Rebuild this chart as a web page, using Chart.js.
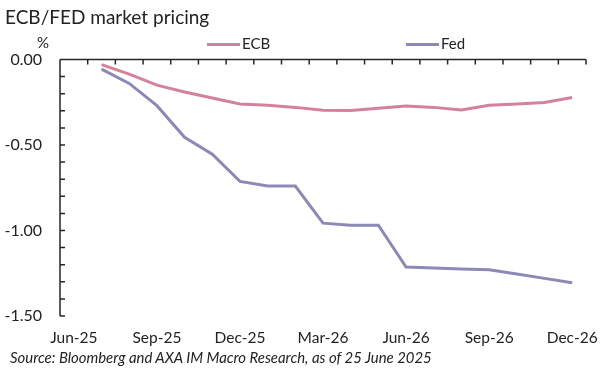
<!DOCTYPE html>
<html>
<head>
<meta charset="utf-8">
<script src="https://cdn.jsdelivr.net/npm/chart.js@4/dist/chart.umd.min.js"></script>
<style>
  body { margin: 0; background: #fff; }
  #wrap { position: relative; width: 611px; height: 376px; font-family: Lato, "Noto Sans", sans-serif; color: #222; }
  #wrap canvas { position: absolute; left: 0; top: 0; }
  .txt { position: absolute; white-space: nowrap; line-height: 1; }
  #title { left: 5px; top: 7px; font-size: 19px; }
  #unit { left: 37px; top: 35px; font-size: 15px; }
  #source { left: 10px; top: 350px; font-size: 14.9px; font-style: italic; }
  .leg { position: absolute; top: 34px; font-size: 15px; }
  .leg i { display: inline-block; width: 33px; height: 3px; vertical-align: middle; margin-right: 2px; position: relative; top: -1px; }
</style>
</head>
<body>
<div id="wrap">
  <canvas id="chart" width="611" height="376"></canvas>
  <div class="txt" id="title">ECB/FED market pricing</div>
  <div class="txt" id="unit">%</div>
  <div class="leg" style="left:207px"><i style="background:#d4829c"></i>ECB</div>
  <div class="leg" style="left:406px"><i style="background:#8c89b6"></i>Fed</div>
  <div class="txt" id="source">Source: Bloomberg and AXA IM Macro Research, as of 25 June 2025</div>
</div>
<script>
const months = ["Jun-25", "Jul-25", "Aug-25", "Sep-25", "Oct-25", "Nov-25", "Dec-25",
    "Jan-26", "Feb-26", "Mar-26", "Apr-26", "May-26", "Jun-26", "Jul-26", "Aug-26",
    "Sep-26", "Oct-26", "Nov-26", "Dec-26"];
const ecb = [null, -0.03, -0.085, -0.15, -0.19, -0.225, -0.26, -0.267, -0.28, -0.297,
    -0.298, -0.285, -0.272, -0.28, -0.295, -0.267, -0.26, -0.252, -0.222];
const fed = [null, -0.056, -0.14, -0.27, -0.455, -0.554, -0.713, -0.74, -0.74, -0.957,
    -0.969, -0.969, -1.214, -1.22, -1.225, -1.23, -1.255, -1.28, -1.305];
const yMin = -1.5, yMax = 0, yMajor = 0.5, yMinor = 0.1;

// axis lines with inward tick marks, like the excel original
const axesPlugin = {
    id: "axes",
    afterDatasetsDraw(chart) {
        const ctx = chart.ctx;
        const x = chart.scales.x, y = chart.scales.y;
        const a = chart.chartArea;
        const y0 = y.getPixelForValue(0);
        const step = x.getPixelForValue(1) - x.getPixelForValue(0);
        ctx.save();
        ctx.strokeStyle = "#262626";
        ctx.lineWidth = 1.5;
        ctx.beginPath();
        ctx.moveTo(a.left, y0);
        ctx.lineTo(a.right, y0);
        ctx.moveTo(a.left, y.getPixelForValue(yMin));
        ctx.lineTo(a.left, y.getPixelForValue(yMax));
        for (let i = 0; i <= months.length; i++) {
            const px = x.getPixelForValue(i) - step / 2;
            ctx.moveTo(px, y0);
            ctx.lineTo(px, y0 + 5);
        }
        for (let v = 0; v <= Math.round((yMax - yMin) / yMinor); v++) {
            const py = y.getPixelForValue(yMax - v * yMinor);
            ctx.moveTo(a.left, py);
            ctx.lineTo(a.left + 5, py);
        }
        ctx.stroke();
        ctx.restore();
    }
};

new Chart(document.getElementById("chart"), {
    type: "line",
    data: {
        labels: months,
        datasets: [
            { label: "ECB", data: ecb, borderColor: "#d4829c", borderWidth: 3, pointRadius: 0, tension: 0, clip: false },
            { label: "Fed", data: fed, borderColor: "#8c89b6", borderWidth: 3, pointRadius: 0, tension: 0, clip: false }
        ]
    },
    options: {
        responsive: false,
        animation: false,
        layout: { padding: { top: 59.5, right: 14, bottom: 30, left: 0 } },
        plugins: { legend: { display: false }, title: { display: false }, tooltip: { enabled: false } },
        scales: {
            x: {
                offset: true,
                grid: { display: false, drawTicks: false },
                border: { display: false },
                afterFit(s) { s.height = 30; },
                ticks: {
                    autoSkip: false,
                    maxRotation: 0,
                    padding: 13,
                    color: "#222",
                    font: { family: "Lato", size: 15.5 },
                    callback(v, i) { return i % 3 === 0 ? months[i] : ""; }
                }
            },
            y: {
                min: yMin,
                max: yMax,
                grid: { display: false, drawTicks: false },
                border: { display: false },
                afterFit(s) { s.width = 60; },
                ticks: {
                    stepSize: yMajor,
                    padding: 18,
                    color: "#222",
                    font: { family: "Lato", size: 16 },
                    callback(v) { return v.toFixed(2); }
                }
            }
        }
    },
    plugins: [axesPlugin]
});
</script>
</body>
</html>
